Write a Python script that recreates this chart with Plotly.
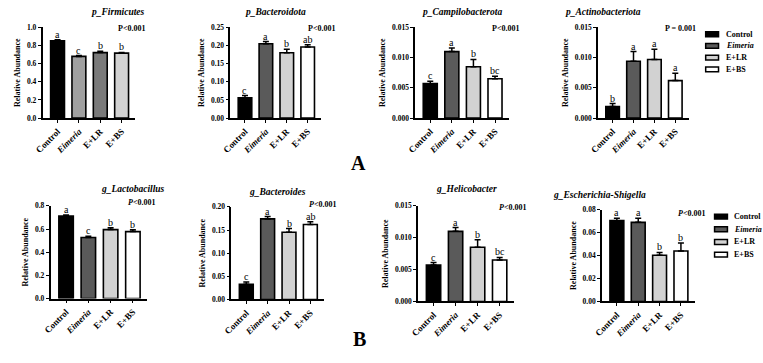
import plotly.graph_objects as go

W, H = 763, 363
categories = ["Control", "Eimeria", "E+LR", "E+BS"]
tick_text = ["Control", "<i>Eimeria</i>", "E+LR", "E+BS"]

titles = ["p_Firmicutes", "p_Bacteroidota", "p_Campilobacterota", "p_Actinobacteriota",
          "g_Lactobacillus", "g_Bacteroides", "g_Helicobacter", "g_Escherichia-Shigella"]

firmicutes = [0.852, 0.680, 0.722, 0.716]
firmicutes_err = [0.012, 0.010, 0.015, 0.008]
bacteroidota = [0.056, 0.205, 0.180, 0.196]
bacteroidota_err = [0.006, 0.006, 0.010, 0.006]
campilobacterota = [0.0057, 0.0110, 0.0085, 0.0065]
campilobacterota_err = [0.0004, 0.0006, 0.0012, 0.0004]
actinobacteriota = [0.0019, 0.0094, 0.0097, 0.0062]
actinobacteriota_err = [0.0005, 0.0016, 0.0017, 0.0012]
lactobacillus = [0.712, 0.527, 0.595, 0.578]
lactobacillus_err = [0.010, 0.010, 0.015, 0.015]
bacteroides = [0.033, 0.174, 0.145, 0.162]
bacteroides_err = [0.005, 0.005, 0.008, 0.006]
helicobacter = [0.0057, 0.0110, 0.0085, 0.0065]
helicobacter_err = [0.0004, 0.0006, 0.0012, 0.0004]
escherichia = [0.0705, 0.0690, 0.0403, 0.0440]
escherichia_err = [0.0020, 0.0035, 0.0025, 0.0070]

letters = [["a", "c", "b", "b"], ["c", "a", "b", "ab"], ["c", "a", "b", "bc"], ["b", "a", "a", "a"],
           ["a", "c", "b", "b"], ["c", "a", "b", "ab"], ["c", "a", "b", "bc"], ["a", "a", "b", "b"]]
p_texts = ["P<0.001", "P<0.001", "P<0.001", "P = 0.001",
           "<i>P</i><0.001", "<i>P</i><0.001", "<i>P</i><0.001", "<i>P</i><0.001"]
y_max = [1.0, 0.25, 0.015, 0.015, 0.8, 0.20, 0.015, 0.08]
y_dtick = [0.2, 0.05, 0.005, 0.005, 0.2, 0.05, 0.005, 0.02]
y_fmt = [".1f", ".2f", ".3f", ".3f", ".1f", ".2f", ".3f", ".2f"]

values = [firmicutes, bacteroidota, campilobacterota, actinobacteriota,
          lactobacillus, bacteroides, helicobacter, escherichia]
errors = [firmicutes_err, bacteroidota_err, campilobacterota_err, actinobacteriota_err,
          lactobacillus_err, bacteroides_err, helicobacter_err, escherichia_err]

colors_main = ["#000000", "#5a5a5a", "#d2d2d2", "#ffffff"]
colors_first = ["#000000", "#a0a0a0", "#7a7a7a", "#d2d2d2"]

# layout geometry (pixels)
x_px = [(34, 128), (224, 316), (411, 506), (596, 688),
        (42, 140), (225, 319), (414, 511), (600, 694)]
y_px = [(24, 117), (24, 117), (24, 117), (24, 117),
        (207, 302), (208, 303), (207, 305), (211, 305)]
title_y = [8, 8, 8, 8, 190, 193, 190, 196]
p_right = [140, 332, 518, 697, 150, 333, 525, 706]
p_y = [25, 25, 25, 25, 204, 206, 209, 215]

def X(p):
    return p / W

def Y(p):
    return 1 - p / H

SERIF = "'Liberation Serif', 'Times New Roman', 'DejaVu Serif', serif"
fig = go.Figure()
annotations = []
shapes = []

def font(size, bold=True):
    return dict(family=SERIF, size=size, color="black", weight="bold" if bold else "normal")

for i in range(8):
    n = i + 1
    xa = "x" if n == 1 else f"x{n}"
    ya = "y" if n == 1 else f"y{n}"
    cols = colors_first if i == 0 else colors_main
    fig.add_trace(go.Bar(
        x=categories, y=values[i], xaxis=xa, yaxis=ya, width=0.65,
        marker=dict(color=cols, line=dict(color="black", width=1.6)),
        error_y=dict(type="data", array=errors[i], arrayminus=[0] * 4, symmetric=False,
                     color="black", thickness=1.5, width=3),
        showlegend=False))
    xl, xr = x_px[i]
    yt, yb = y_px[i]
    fig.layout[f"xaxis{'' if n == 1 else n}"] = dict(
        domain=[X(xl), X(xr)], anchor=ya, type="category", range=[-0.7, 3.65],
        tickvals=categories, ticktext=tick_text, tickangle=-45,
        showline=True, linecolor="black", linewidth=1.5,
        ticks="outside", ticklen=3, tickwidth=1.2, tickcolor="black",
        tickfont=font(9),
        showgrid=False, zeroline=False, fixedrange=True)
    fig.layout[f"yaxis{'' if n == 1 else n}"] = dict(
        domain=[Y(yb), Y(yt)], anchor=xa, range=[0, y_max[i]],
        dtick=y_dtick[i], tick0=0, tickformat=y_fmt[i],
        showline=True, linecolor="black", linewidth=1.5,
        ticks="outside", ticklen=3, tickwidth=1.2, tickcolor="black",
        tickfont=font(7.5),
        title=dict(text="Relative Abundance", standoff=5, font=font(8)),
        showgrid=False, zeroline=False, fixedrange=True)
    # significance letters
    for c, v, e, L in zip(categories, values[i], errors[i], letters[i]):
        annotations.append(dict(x=c, y=v + e, xref=xa, yref=ya, text=L, showarrow=False,
                                yanchor="bottom", yshift=-2, font=font(10, bold=False)))
    # title
    annotations.append(dict(x=X((xl + xr) / 2), y=Y(title_y[i]), xref="paper", yref="paper",
                            text=f"<i>{titles[i]}</i>", showarrow=False, yanchor="middle",
                            font=font(9.5)))
    # p value
    annotations.append(dict(x=X(p_right[i]), y=Y(p_y[i]), xref="paper", yref="paper",
                            text=p_texts[i], showarrow=False, xanchor="right", yanchor="middle",
                            font=font(8)))

# manual legends
legend_text = ["Control", "<i>Eimeria</i>", "E+LR", "E+BS"]
for (sx, tx, rows) in [(705, 724, [31, 43, 55, 67]), (714, 732, [218, 231, 244, 257])]:
    for k, ry in enumerate(rows):
        shapes.append(dict(type="rect", xref="paper", yref="paper",
                           x0=X(sx), x1=X(sx + 13), y0=Y(ry + 2.5), y1=Y(ry - 2.5),
                           fillcolor=colors_main[k], line=dict(color="black", width=1.5)))
        annotations.append(dict(x=X(tx), y=Y(ry), xref="paper", yref="paper",
                                text=legend_text[k], showarrow=False, xanchor="left",
                                yanchor="middle", font=font(8)))

annotations.append(dict(x=X(354), y=Y(163), xref="paper", yref="paper", text="A",
                        showarrow=False, font=font(20)))
annotations.append(dict(x=X(355), y=Y(357), xref="paper", yref="paper", text="B",
                        showarrow=False, font=font(20)))

fig.update_layout(width=W, height=H, margin=dict(l=0, r=0, t=0, b=0),
                  paper_bgcolor="white", plot_bgcolor="white",
                  annotations=annotations, shapes=shapes, bargap=0.3, showlegend=False)

fig.write_html("out.html", config={"displayModeBar": False})
